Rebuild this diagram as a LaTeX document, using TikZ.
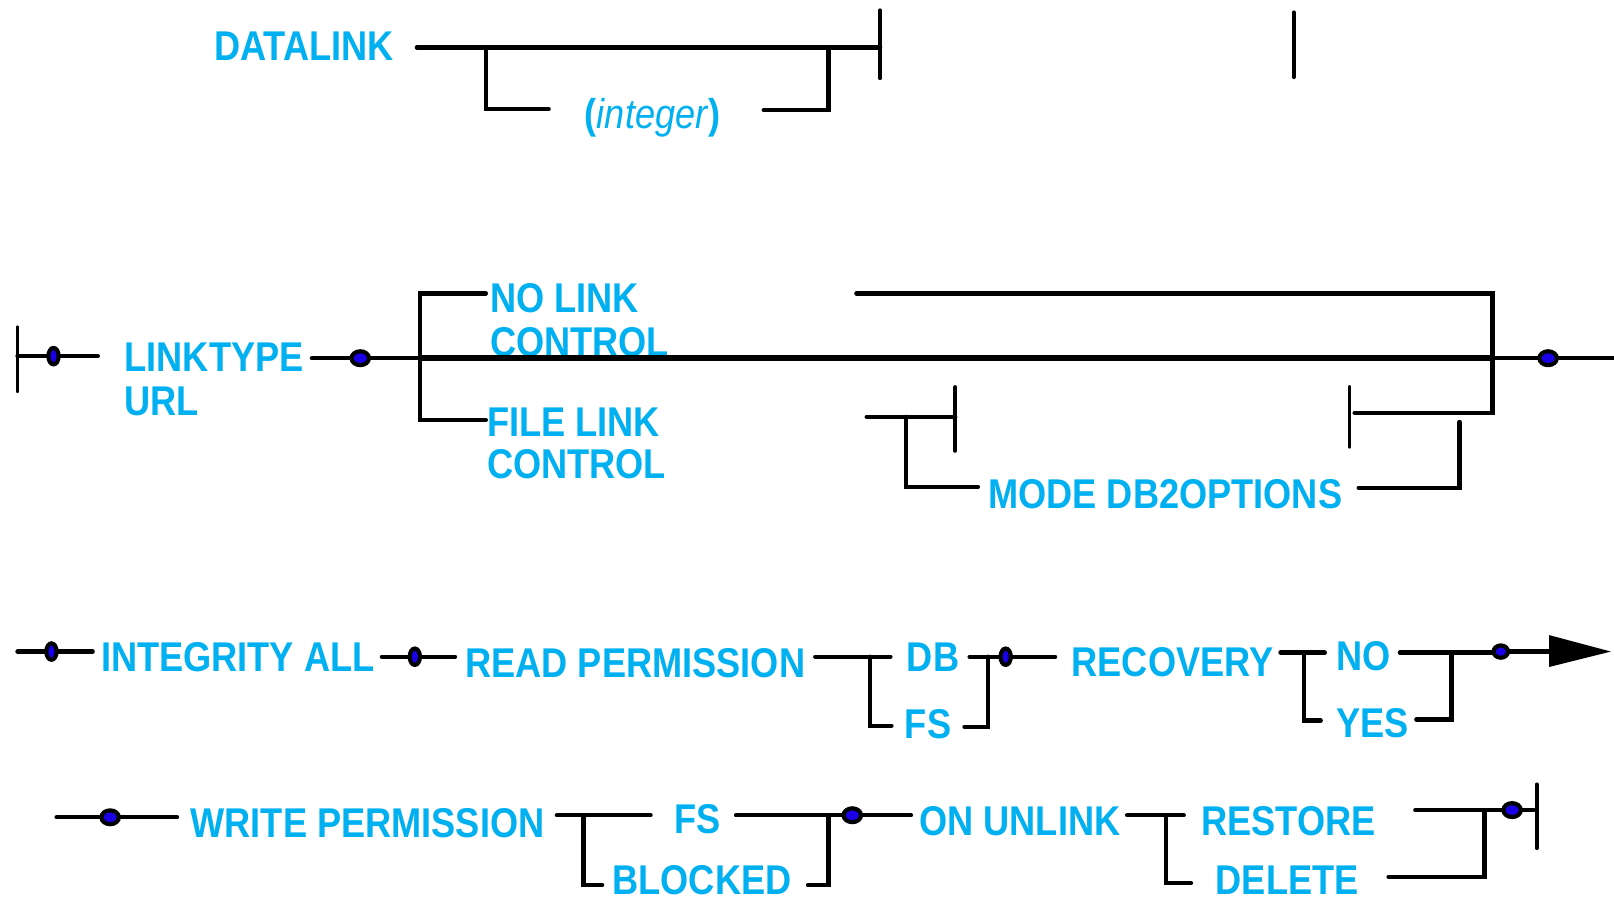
\documentclass[tikz,border=0pt]{standalone}
\usepackage{fontspec}
\newfontfamily\lab{Liberation Sans}[FakeStretch=0.87]
\definecolor{txt}{RGB}{0,176,240}
\definecolor{dotblue}{RGB}{25,0,230}
\usetikzlibrary{shapes.geometric}
\begin{document}
\begin{tikzpicture}[x=0.02cm,y=-0.02cm, line width=0.085cm, line cap=round,
  lbl/.style={anchor=base west, inner sep=0pt, text=txt, font=\lab\bfseries\fontsize{23}{23}\selectfont},
  ital/.style={anchor=base west, inner sep=0pt, text=txt, font=\lab\fontsize{23}{23}\selectfont},
  mainwire/.style={line width=0.11cm},
  endbar/.style={line width=0.075cm},
  dotv/.style={ellipse, draw=black, fill=dotblue, line width=0.08cm, inner sep=0pt, minimum width=0.20cm, minimum height=0.32cm},
  doth/.style={ellipse, draw=black, fill=dotblue, line width=0.08cm, inner sep=0pt, minimum width=0.34cm, minimum height=0.27cm},
  dots/.style={ellipse, draw=black, fill=dotblue, line width=0.08cm, inner sep=0pt, minimum width=0.28cm, minimum height=0.24cm}]
\useasboundingbox (0,0) rectangle (1568,878);

% ---------- Row 1 ----------
\node[lbl] (datalink) at (206,59) {DATALINK};
\draw (405,46) -- (855,46);
\draw[endbar] (855,10) -- (855,76);
\draw (472,46) -- (472,106) -- (533,106);
\draw (742,107) -- (805,107) -- (805,46);
\node[ital] (integer) at (566,125) {\textbf{(}\textit{integer}\textbf{)}};
\draw[endbar] (1257,12) -- (1257,75);

% ---------- Row 2 ----------
\draw[endbar] (17,318) -- (17,380);
\draw (17,346) -- (95,346);
\node[lbl] (linktype) at (119,361) {LINKTYPE};
\node[lbl] (url) at (119,404) {URL};
\draw (303,348) -- (408,348);
\draw (472,285) -- (408,285) -- (408,408) -- (472,408);
\node[lbl] (nolink) at (474,304) {NO LINK};
\node[lbl] (nocontrol) at (474,346) {CONTROL};
\node[lbl] (filelink) at (471,424) {FILE LINK};
\node[lbl] (filecontrol) at (471,465) {CONTROL};
\draw[mainwire] (408,348) -- (1450,348);
\draw (1450,348) -- (1568,348);
\draw (832,285) -- (1450,285) -- (1450,401) -- (1316,401);
\draw[endbar] (1311,376) -- (1311,434);
\draw (842,405) -- (928,405);
\draw[endbar] (928,376) -- (928,438);
\draw (880,405) -- (880,473) -- (950,473);
\node[lbl] (mode) at (958,494) {MODE DB2OPTIONS};
\draw (1320,474) -- (1418,474) -- (1418,410);
\node[dotv] (d1) at (52,346) {};
\node[doth] (d2) at (350,348) {};
\node[doth] (d3) at (1504,348) {};

% ---------- Row 3 ----------
\draw (17,633) -- (90,633);
\node[lbl] (integrity) at (96,652) {INTEGRITY ALL};
\draw (371,638) -- (442,638);
\node[lbl] (readperm) at (450,658) {READ PERMISSION};
\draw (792,638) -- (865,638);
\draw (845,638) -- (845,705) -- (866,705);
\node[lbl] (db) at (879,652) {DB};
\node[lbl] (fs1) at (877,717) {FS};
\draw (942,638) -- (1025,638);
\draw (937,706) -- (960,706) -- (960,638);
\node[lbl] (recovery) at (1039,657) {RECOVERY};
\draw (1244,634) -- (1287,634);
\draw (1267,634) -- (1267,700) -- (1283,700);
\node[lbl] (no) at (1296,651) {NO};
\node[lbl] (yes) at (1296,716) {YES};
\draw (1360,634) -- (1458,634);
\draw (1376,699) -- (1410,699) -- (1410,634);
\draw[mainwire] (1458,633) -- (1505,633);
\fill (1505,617) -- (1565,633) -- (1505,648) -- cycle;
\node[dotv] (d4) at (50,633) {};
\node[dotv] (d5) at (403,638) {};
\node[dotv] (d6) at (977,638) {};
\node[dots] (d7) at (1458,633) {};

% ---------- Row 4 ----------
\draw (55,794) -- (172,794);
\node[lbl] (writeperm) at (183,814) {WRITE PERMISSION};
\draw (541,792) -- (632,792);
\draw (567,792) -- (567,860) -- (585,860);
\node[lbl] (fs2) at (653,810) {FS};
\node[lbl] (blocked) at (593,869) {BLOCKED};
\draw (715,792) -- (885,792);
\draw (785,860) -- (805,860) -- (805,792);
\node[lbl] (onunlink) at (891,812) {ON UNLINK};
\draw (1095,792) -- (1150,792);
\draw (1133,792) -- (1133,858) -- (1157,858);
\node[lbl] (restore) at (1165,812) {RESTORE};
\node[lbl] (delete) at (1179,869) {DELETE};
\draw (1375,787) -- (1490,787);
\draw (1349,852) -- (1442,852) -- (1442,787);
\draw[endbar] (1493,762) -- (1493,824);
\node[doth] (d8) at (107,794) {};
\node[doth] (d9) at (828,792) {};
\node[doth] (d10) at (1469,787) {};
\end{tikzpicture}
\end{document}
